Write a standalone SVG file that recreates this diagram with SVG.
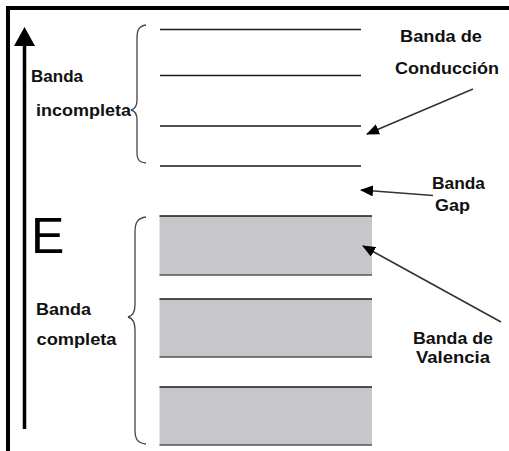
<svg xmlns="http://www.w3.org/2000/svg" width="509" height="451" viewBox="0 0 509 451">
<style>
.lbl{font-family:"Liberation Sans",Arial,sans-serif;font-weight:bold;font-size:17px;fill:#111}
.lvl{stroke:#1a1a1a;stroke-width:1.5}
.band{fill:#c7c6ca}
.brace{fill:none;stroke:#444;stroke-width:1.3}
.ptr{stroke:#333;stroke-width:1.6;fill:none;marker-end:url(#ah)}
</style>
<defs>
<marker id="ah" viewBox="0 0 13 11" refX="12" refY="5.5" markerWidth="13" markerHeight="11" markerUnits="userSpaceOnUse" orient="auto">
<path d="M0,0 L13,5.5 L0,11 z" fill="#000"/>
</marker>
</defs>
<rect width="509" height="451" fill="#fff"/>
<g id="frame">
<path d="M8,451 L8,8 L509,8" fill="none" stroke="#000" stroke-width="4"/>
</g>
<g id="energy-axis">
<line x1="24.5" y1="44" x2="24.5" y2="429" stroke="#000" stroke-width="3.5"/>
<path d="M24.5,27 L35,46 L14,46 z" fill="#000"/>
<text x="31" y="253" style="font-family:'Liberation Sans',Arial,sans-serif;font-size:50px;fill:#000">E</text>
</g>
<g id="conduction-band">
<line class="lvl" x1="160" y1="29.5" x2="361" y2="29.5"/>
<line class="lvl" x1="160" y1="75.5" x2="361" y2="75.5"/>
<line class="lvl" x1="160" y1="126" x2="361" y2="126"/>
<line class="lvl" x1="160" y1="166" x2="361" y2="166" stroke="#444"/>
<path class="brace" d="M146,25 C139,26 137,30 137,38 L137,100 C137,106 135,109 131,110 C135,111 137,114 137,120 L137,152 C137,160 139,162 146,163"/>
<text class="lbl" x="31" y="82" textLength="52" lengthAdjust="spacingAndGlyphs">Banda</text>
<text class="lbl" x="36" y="115.5" textLength="95" lengthAdjust="spacingAndGlyphs">incompleta</text>
</g>
<g id="valence-band">
<rect class="band" x="159.5" y="216" width="212.5" height="59"/>
<rect class="band" x="159.5" y="299" width="212.5" height="58"/>
<rect class="band" x="159.5" y="387" width="212.5" height="58"/>
<line class="lvl" x1="159.5" y1="216" x2="372" y2="216"/>
<line x1="159.5" y1="275" x2="372" y2="275" stroke="#555" stroke-width="1.5"/>
<line class="lvl" x1="159.5" y1="299" x2="372" y2="299"/>
<line x1="159.5" y1="357" x2="372" y2="357" stroke="#555" stroke-width="1.5"/>
<line class="lvl" x1="159.5" y1="387" x2="372" y2="387"/>
<line x1="159.5" y1="445" x2="372" y2="445" stroke="#555" stroke-width="1.5"/>
<path class="brace" d="M146,217 C138,218 135,222 135,232 L135,305 C135,312 132,316 128,317 C132,318 135,322 135,330 L135,430 C135,440 138,443 146,444"/>
<text class="lbl" x="36" y="315" textLength="55" lengthAdjust="spacingAndGlyphs">Banda</text>
<text class="lbl" x="36.5" y="345" textLength="80" lengthAdjust="spacingAndGlyphs">completa</text>
</g>
<g id="label-conduccion">
<text class="lbl" x="400" y="42" textLength="82" lengthAdjust="spacingAndGlyphs">Banda de</text>
<text class="lbl" x="395" y="74" textLength="104" lengthAdjust="spacingAndGlyphs">Conducción</text>
</g>
<g id="label-gap">
<text class="lbl" x="432" y="189" textLength="53" lengthAdjust="spacingAndGlyphs">Banda</text>
<text class="lbl" x="435" y="210.5" textLength="35" lengthAdjust="spacingAndGlyphs">Gap</text>
</g>
<g id="label-valencia">
<text class="lbl" x="413" y="344" textLength="80" lengthAdjust="spacingAndGlyphs">Banda de</text>
<text class="lbl" x="416" y="362.5" textLength="74" lengthAdjust="spacingAndGlyphs">Valencia</text>
</g>
<g id="connectors">
<line class="ptr" x1="473" y1="89" x2="367" y2="134"/>
<line class="ptr" x1="433" y1="195.5" x2="361" y2="190"/>
<line class="ptr" x1="501" y1="322" x2="363" y2="246"/>
</g>
</svg>
